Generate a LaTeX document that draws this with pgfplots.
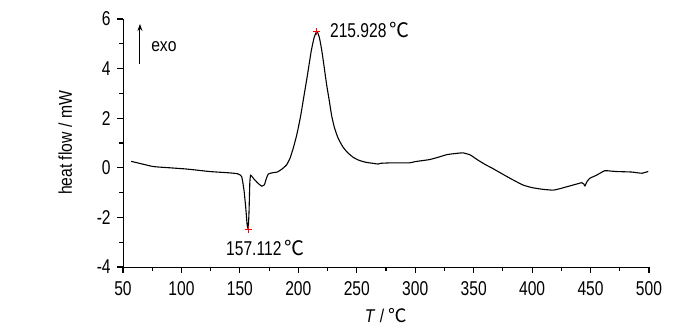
\documentclass[border=0pt]{standalone}
\usepackage{pgfplots}
\pgfplotsset{compat=1.18}
\usetikzlibrary{arrows.meta}
\usepackage{fontspec}
\setmainfont{Liberation Sans}[FakeStretch=0.85]
\newfontfamily\numfont{Liberation Sans}[FakeStretch=0.78]
\newfontfamily\cjk{Noto Sans CJK SC}
\newcommand\degC{{\cjk ℃}}
\newcommand\numsize{\fontsize{20}{24}\numfont}
\begin{document}
\fontsize{18.5}{22}\selectfont
\begin{tikzpicture}
\begin{axis}[
  scale only axis, width=526pt, height=248pt,
  xmin=50, xmax=500, ymin=-4, ymax=6,
  axis line style={line width=1pt},
  axis x line*=bottom, axis y line*=left,
  xtick={50,100,...,500}, ytick={-4,-2,...,6},
  minor x tick num=1, minor y tick num=1,
  xtick align=outside, ytick align=outside,
  major tick length=6pt, minor tick length=3.5pt,
  tick style={black, line width=1.2pt},
  /pgf/number format/assume math mode=true,
  ticklabel style={font=\numsize},
  xticklabel style={yshift=-2pt},
  xlabel={\textit{T} / \degC},
  ylabel={heat flow / mW},
  xlabel style={at={(axis description cs:0.5,-0.194)}, anchor=center},
  ylabel style={at={(axis description cs:-0.110,0.5)}, anchor=center},
  clip=false,
]
\addplot[black, line width=1.1pt, smooth, tension=0.3] coordinates {
(57,0.26) (65,0.17) (76,0.05) (90,0.0) (104.5,-0.05) (124,-0.15) (140,-0.2)
(148,-0.24) (151.5,-0.35) (153.5,-0.9) (155,-1.6) (156.2,-2.3) (157.1,-2.45)
(157.8,-1.8) (158.5,-0.6) (159.2,-0.3) (162,-0.45) (165,-0.6) (168.6,-0.74)
(171,-0.68) (172.5,-0.45) (174.3,-0.25) (178,-0.2) (182,-0.17) (186,-0.05)
(190,0.12) (193,0.4) (196,0.85) (199,1.4) (202,2.1) (205,2.95) (208,3.8)
(211,4.7) (213.5,5.25) (215.9,5.5) (218,5.25) (220,4.75) (222,4.1) (224.2,3.35)
(226.5,2.7) (228.5,2.1) (231,1.6) (234,1.2) (238,0.85) (242,0.62) (247,0.42)
(252,0.3) (258,0.22) (264,0.18) (268.4,0.15) (270,0.18) (280,0.2) (295,0.2)
(300,0.25) (312,0.33) (320,0.43) (327,0.53) (335,0.58) (341,0.6) (347,0.52)
(353,0.33) (360,0.13) (366,-0.02) (372,-0.18) (381,-0.42) (392,-0.69)
(400,-0.80) (409.5,-0.87) (418,-0.9) (424,-0.84) (430,-0.76) (437,-0.67)
(442.4,-0.6) (444.2,-0.65) (445.2,-0.73) (447,-0.55) (449.5,-0.42) (455,-0.3)
(462,-0.12) (467,-0.13) (472,-0.15) (485,-0.17) (490,-0.2) (494,-0.22)
(497,-0.18) (499.4,-0.15)
};
\addplot[only marks, mark=+, red, mark size=3.5pt, line width=1pt] coordinates {(157.112,-2.5) (215.928,5.5)};
\draw[-{Stealth[length=7pt,width=5pt]}, line width=1pt] (axis cs:64.5,4.2) -- (axis cs:64.5,5.8);
\node[anchor=west, inner sep=0pt] at (axis cs:74,4.9) {exo};
\node[anchor=west, inner sep=0pt] at (axis cs:227,5.56) {\numsize 215.928\,\degC};
\node[anchor=center, inner sep=0pt] at (axis cs:171.9,-3.23) {\numsize 157.112\,\degC};
\coordinate (bl) at (rel axis cs:0,0);
\end{axis}
\pgfresetboundingbox
\path ([xshift=-123pt,yshift=-65pt]bl) rectangle ([xshift=577pt,yshift=267pt]bl);
\end{tikzpicture}
\end{document}
